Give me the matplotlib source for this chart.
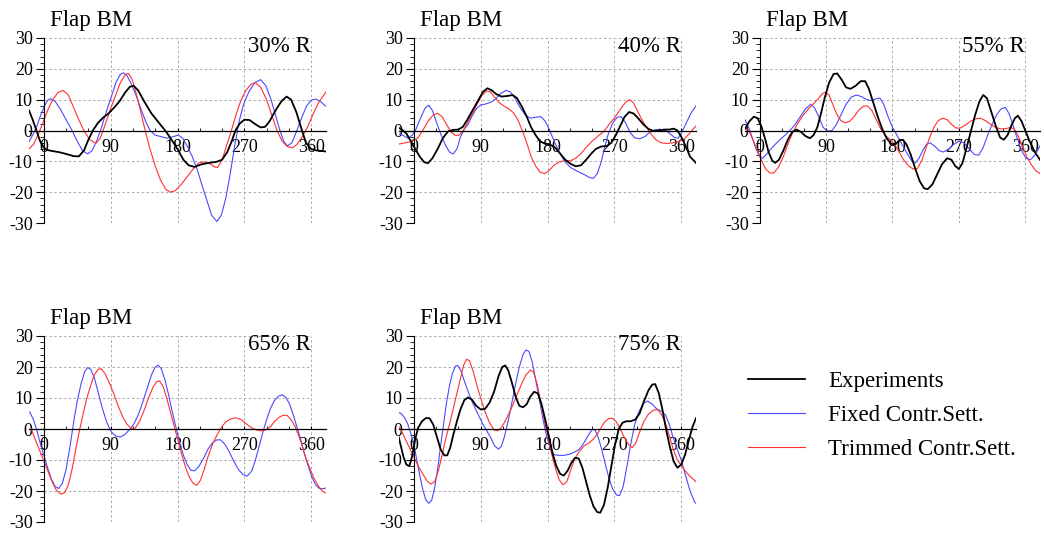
import matplotlib
matplotlib.use("Agg")
import matplotlib.pyplot as plt
from matplotlib.ticker import MultipleLocator

plt.rcParams['font.family'] = ['Liberation Serif', 'DejaVu Serif']
plt.rcParams['axes.unicode_minus'] = False

# (azimuth deg, flap bending moment) pairs
exp_30 = [(-20, 6.5), (-15, 3.5), (-10, 0), (-5, -3.5), (0, -5.5), (3, -6.2), (10, -6.6), (20, -7),
          (30, -7.6), (40, -8.3), (47, -8.4), (54, -6.5), (60, -3), (66, 0), (73, 2.5), (80, 4.2),
          (87, 5.5), (95, 7.5), (102, 9.5), (110, 12.5), (116, 14.2), (121, 14.5), (127, 13),
          (135, 9.5), (145, 5.5), (155, 2.5), (165, -0.5), (172, -3), (180, -6), (188, -9.5),
          (195, -11.3), (203, -11.8), (212, -11), (222, -10.5), (232, -10.2), (240, -9.5),
          (247, -7), (253, -3.5), (258, 0), (264, 2.3), (270, 3.5), (277, 3.4), (285, 2),
          (292, 1), (298, 1.2), (304, 3), (312, 6.5), (320, 9.5), (327, 11), (333, 10), (340, 6),
          (347, 0.5), (353, -4), (360, -6), (368, -6.5), (380, -6.8)]
fix_30 = [(-20, -3.6), (-15, -1.5), (-10, 1), (-5, 4.5), (0, 7.5), (5, 9.8), (9, 10.3), (15, 9.5),
          (22, 7), (30, 3.5), (38, 0), (45, -3.5), (52, -6.5), (59, -7.6), (65, -6.5), (71, -3.5),
          (77, 0.5), (84, 6), (91, 11), (97, 15.5), (103, 18.2), (107, 18.7), (112, 17.8),
          (118, 15), (124, 11.5), (130, 7.5), (137, 3), (143, 0), (150, -1.5), (158, -2),
          (166, -2.5), (174, -2), (181, -1.5), (187, -2.5), (193, -5), (200, -8.5), (207, -13),
          (214, -18.5), (220, -23), (226, -27.5), (233, -29.5), (239, -27.5), (245, -22),
          (251, -14), (257, -5), (263, 3), (269, 8.5), (276, 12.5), (284, 15.5), (292, 16.5),
          (299, 14.5), (306, 10), (312, 5), (318, 0), (323, -3.5), (328, -5), (334, -4),
          (340, -0.5), (347, 4), (354, 8), (360, 9.8), (366, 10.2), (372, 9.5), (380, 7.8)]
trim_30 = [(-20, -6), (-14, -4.5), (-8, -1.5), (-2, 2), (5, 6.5), (12, 10), (19, 12.3), (26, 13),
           (33, 11.5), (40, 7.5), (47, 3.5), (55, -0.5), (62, -3), (70, -4.2), (76, -2.5),
           (82, 1.5), (89, 6.5), (96, 11), (103, 15.5), (110, 18.2), (114, 18.5), (119, 16.5),
           (125, 11.5), (131, 5.5), (137, -0.5), (143, -6), (150, -11.5), (157, -16), (164, -19),
           (170, -20), (177, -19.5), (185, -17.5), (193, -15), (201, -12.5), (209, -10.5),
           (216, -10.2), (223, -10.7), (230, -11.8), (234, -12), (240, -9.5), (246, -5),
           (252, -0.5), (258, 4.5), (265, 9.5), (272, 13), (279, 15), (285, 15.5), (292, 14),
           (300, 10), (307, 5), (314, 0), (321, -3.5), (328, -5.2), (335, -5.6), (341, -4.5),
           (348, -2), (355, 1), (362, 5), (370, 9), (380, 12.5)]

exp_40 = [(-22, 1), (-17, 0.5), (-10, -1), (-4, -3.5), (2, -6), (8, -8.5), (14, -10.3), (19, -10.6),
          (25, -9), (32, -6), (39, -2.5), (46, -0.3), (53, 0.2), (60, 0.3), (66, 1.2), (72, 3.5),
          (79, 6.5), (86, 9.5), (93, 12.5), (99, 13.7), (105, 13), (111, 11.8), (118, 11),
          (126, 11.2), (133, 11.5), (139, 10.5), (146, 7.5), (152, 4.5), (158, 1), (164, -1.5),
          (170, -3.5), (176, -4.2), (183, -4.5), (190, -5.5), (197, -7.5), (204, -9.5),
          (211, -10.8), (218, -11.6), (225, -11.3), (232, -9.5), (239, -7.5), (245, -6),
          (252, -5.2), (260, -5), (266, -4), (272, -1.5), (278, 1.5), (284, 4.5), (290, 6),
          (296, 5.5), (302, 4), (309, 2), (316, 0.5), (323, -0.2), (330, 0), (337, 0.3),
          (344, 0.3), (350, 0.6), (355, 0), (360, -2), (366, -5), (372, -8.5), (380, -10.5)]
fix_40 = [(-22, -1), (-15, -1.5), (-8, -2.5), (-2, -1.5), (3, 0.5), (9, 4), (15, 7.2), (20, 8.2),
          (25, 6.5), (30, 3), (36, -1), (42, -4.5), (48, -7), (53, -7.6), (58, -6), (63, -2),
          (68, 0.5), (73, 2), (78, 4.5), (84, 7), (90, 8.3), (97, 8.6), (104, 9.2), (110, 10.2),
          (117, 12), (124, 13), (130, 12.5), (136, 10.5), (143, 7.5), (150, 5), (157, 4),
          (164, 4.3), (171, 4.5), (177, 3), (183, 0), (189, -3.5), (196, -7), (203, -10),
          (211, -12), (220, -13.2), (229, -14.2), (237, -15.3), (242, -15.5), (247, -14),
          (252, -10.5), (257, -5.5), (262, -1), (268, 2.5), (274, 4.3), (279, 4.5), (285, 2.5),
          (291, -0.5), (297, -2.3), (304, -2.7), (311, -2), (318, -0.5), (325, 0.3), (332, 0.3),
          (339, 0), (345, -1), (351, -2.3), (356, -2.5), (361, -0.5), (367, 2.5), (373, 5.5),
          (380, 8)]
trim_40 = [(-22, -4.5), (-12, -4), (-3, -3.6), (5, -2.5), (12, 0), (19, 3), (26, 5), (32, 5.6),
           (38, 4.5), (44, 2), (50, -0.5), (56, -1.6), (61, -1.5), (66, -0.3), (72, 2.5),
           (79, 5.5), (86, 9), (92, 11.5), (98, 12.8), (103, 12.5), (109, 10.8), (115, 9),
           (121, 8), (128, 7), (134, 5.8), (140, 3.5), (146, 0), (152, -4), (158, -8.5),
           (164, -11.5), (170, -13.5), (176, -14), (182, -13), (189, -11.2), (196, -10.2),
           (204, -9.8), (211, -9.8), (218, -9), (225, -7.5), (232, -5.5), (240, -3.5),
           (248, -1.8), (256, -0.3), (263, 2), (270, 4), (277, 6.5), (284, 8.8), (290, 10),
           (295, 9.2), (300, 7), (306, 4), (312, 1.5), (319, -1), (326, -3), (333, -4),
           (341, -4.2), (349, -4), (357, -3.6), (364, -2.8), (371, -1), (380, 1.5)]

exp_55 = [(-20, 0.5), (-14, 3), (-8, 4.5), (-3, 4), (2, 1.5), (7, -2.5), (12, -7), (17, -9.8),
          (21, -10.5), (26, -9.5), (32, -6.5), (38, -3), (44, -0.5), (50, 0.3), (56, -0.5),
          (62, -1.8), (68, -2.5), (73, -1.5), (78, 1), (83, 5.5), (88, 10.5), (94, 15.5),
          (100, 18.3), (105, 18.5), (111, 16.5), (117, 14), (123, 13.5), (130, 14.5), (137, 16),
          (143, 16), (148, 13.5), (154, 9), (160, 4.5), (166, 0.5), (172, -2.5), (178, -4.3),
          (184, -4.5), (189, -3.2), (194, -3), (199, -4.5), (205, -8), (211, -12.5),
          (217, -16.5), (223, -18.8), (228, -19), (234, -17.5), (240, -14.5), (247, -11),
          (254, -9), (260, -9.5), (265, -11.5), (270, -12.5), (275, -10.5), (280, -6),
          (286, -0.5), (292, 5), (298, 9.5), (303, 11.5), (308, 10.5), (314, 6), (320, 1.5),
          (326, -2.3), (331, -3), (336, -1.5), (341, 1.5), (346, 4), (350, 4.8), (355, 3),
          (360, 0), (366, -3.5), (373, -7), (380, -9.5)]
fix_55 = [(-20, 3.5), (-15, 1), (-10, -2.5), (-5, -6), (0, -8.5), (4, -9), (10, -7.5), (17, -5.5),
          (25, -3.5), (33, -1.8), (41, 0), (48, 2), (55, 4.5), (62, 7), (69, 8.5), (74, 7.5),
          (80, 4.5), (86, 1), (92, -0.2), (98, 0), (104, 2), (110, 5), (117, 8.5), (124, 10.8),
          (131, 11.5), (138, 11), (145, 10), (152, 9.7), (158, 10.3), (163, 10.5), (168, 8.5),
          (174, 4.5), (180, 1), (186, -1.5), (193, -4.5), (200, -7.5), (206, -9.8), (211, -10.5),
          (216, -9), (221, -6.5), (226, -4.5), (231, -4), (237, -5), (243, -6.5), (249, -7),
          (256, -6), (263, -4.5), (270, -3.5), (277, -4), (284, -6), (291, -7.8), (297, -8),
          (303, -5.5), (309, -1.5), (315, 2), (321, 5), (327, 7), (333, 7.5), (338, 5.5),
          (343, 2), (349, -2.5), (355, -6.5), (361, -9), (367, -9.5), (373, -8), (380, -5)]
trim_55 = [(-20, 1), (-15, 0), (-10, -2.5), (-4, -6), (2, -9.5), (8, -12.5), (14, -13.8),
           (19, -13.8), (25, -12), (32, -8.5), (38, -4.5), (45, -0.5), (52, 2.5), (59, 5),
           (66, 7), (73, 8.7), (79, 10.2), (85, 12), (89, 12.4), (94, 11.5), (99, 8.5), (104, 5.5),
           (110, 3.2), (116, 2.5), (122, 3), (128, 4.5), (134, 6.5), (140, 7.8), (146, 8),
           (152, 6.5), (158, 3.5), (164, 0.5), (170, -1.5), (177, -3), (183, -4.5), (189, -7),
           (195, -9.5), (202, -11.5), (208, -12.5), (214, -12.3), (220, -9.5), (225, -6),
           (230, -2.5), (236, 1), (242, 3.2), (248, 4), (254, 3.5), (260, 2), (266, 0.8),
           (272, 0.8), (279, 1.8), (286, 3), (293, 3.8), (299, 4), (306, 3.2), (313, 2), (320, 1),
           (327, 0.5), (334, 0.6), (340, 1), (345, 0.5), (350, -1.5), (356, -5), (362, -8.5),
           (368, -11), (374, -13), (380, -14)]

fix_65 = [(-19, 5.5), (-14, 3), (-10, 0), (-5, -4.5), (0, -8.5), (5, -12.5), (10, -16),
          (15, -18.5), (20, -19.2), (25, -17.5), (30, -13), (35, -6), (40, 2), (45, 9), (50, 14.5),
          (55, 18.5), (59, 19.8), (63, 19.3), (68, 16.5), (73, 12), (79, 6.5), (85, 2), (91, -1),
          (97, -2.3), (103, -2.6), (109, -1.8), (115, -0.3), (121, 1.5), (127, 4.5), (133, 8.5),
          (139, 13), (145, 17.5), (150, 20), (154, 20.6), (158, 19.5), (163, 16), (168, 11),
          (173, 5.5), (178, 0.5), (183, -4.5), (188, -8.5), (193, -11.5), (198, -13.3),
          (203, -13.5), (209, -12), (215, -9.5), (221, -6.5), (227, -4.5), (233, -3.5),
          (238, -3.5), (244, -5), (250, -7.5), (256, -10.5), (262, -13), (268, -14.7),
          (274, -15.2), (280, -13.5), (285, -10), (290, -5.5), (295, -1), (300, 3), (305, 6.5),
          (310, 9), (316, 10.6), (321, 11), (326, 10.2), (331, 8), (336, 4.5), (341, 0.5),
          (346, -3.5), (351, -8), (356, -12), (361, -15.5), (366, -18), (371, -19.2),
          (376, -19.3), (380, -19)]
trim_65 = [(-17, 0), (-13, -2.5), (-8, -5.5), (-3, -8.5), (2, -11.5), (7, -14.5), (12, -17.5),
           (17, -19.8), (23, -21), (28, -20.5), (33, -18), (38, -13), (43, -6.5), (48, -0.5),
           (53, 5), (58, 10), (63, 14), (68, 17.5), (73, 19.2), (77, 19.5), (82, 18), (88, 15),
           (94, 11.5), (100, 7.5), (106, 4), (112, 1.5), (118, 0.2), (123, 0.3), (129, 2.5),
           (135, 6), (141, 10), (147, 13.5), (152, 15.3), (156, 15.5), (161, 13.5), (166, 9.5),
           (171, 5), (176, 0.5), (181, -4), (186, -8.5), (191, -12.5), (196, -15.5), (201, -17.5),
           (206, -18.2), (211, -16.5), (216, -13), (221, -9), (227, -5), (233, -2), (239, 0.5),
           (245, 2.3), (252, 3.3), (259, 3.6), (266, 3), (272, 1.8), (279, 0.5), (286, -0.3),
           (293, -0.6), (299, -0.3), (305, 0.7), (311, 2.5), (317, 3.8), (323, 4.5), (328, 4.3),
           (333, 3), (338, 1), (343, -2), (348, -5.5), (353, -9.5), (358, -12.5), (364, -16),
           (370, -18.5), (375, -20), (380, -20.7)]

exp_75 = [(-22, -1), (-18, -5), (-14, -9), (-10, -11.5), (-6, -12), (-2, -8.5), (2, -3), (6, 0.5),
          (11, 2.5), (16, 3.5), (21, 3.5), (26, 1.5), (31, -2.5), (36, -6.5), (41, -8.5),
          (45, -8.5), (49, -6), (53, -2), (58, 2.5), (63, 6.5), (68, 9.3), (73, 10.2), (78, 9.5),
          (84, 7.5), (90, 6.3), (96, 6.5), (102, 8.5), (108, 12), (114, 17), (119, 20),
          (123, 20.5), (127, 19), (132, 15), (137, 10.5), (142, 7.5), (147, 7), (152, 8),
          (157, 10.5), (162, 12), (167, 11.5), (172, 8), (177, 3), (182, -2.5), (187, -8),
          (192, -12), (197, -14.5), (202, -15), (207, -13.5), (212, -11), (217, -9.3),
          (222, -9.5), (227, -12.5), (232, -17), (237, -21.5), (242, -25), (247, -26.8),
          (251, -27), (256, -24.5), (261, -19), (266, -12), (271, -5), (276, 0), (281, 2),
          (286, 2.5), (292, 2.5), (298, 3), (304, 5), (310, 9), (316, 12.5), (321, 14.3),
          (325, 14.5), (330, 11.5), (335, 6), (340, -0.5), (345, -6), (350, -10.5), (355, -12.5),
          (360, -11.5), (365, -8.5), (370, -4), (375, 0.5), (380, 3.5)]
fix_75 = [(-22, 5.5), (-17, 5), (-12, 3.5), (-8, 1.5), (-4, -1.5), (0, -5), (4, -10), (8, -15),
          (12, -19.5), (16, -22.8), (20, -24), (24, -23), (28, -19), (32, -13), (36, -5.5),
          (40, 1.5), (44, 8.5), (48, 14), (52, 18), (56, 20.3), (59, 20.5), (63, 19), (68, 15.5),
          (74, 11.5), (80, 8), (86, 5), (92, 2), (98, -0.5), (104, -3), (109, -5.5), (114, -6.5),
          (118, -5.5), (122, -2.5), (127, 2.5), (132, 8.5), (137, 14.5), (142, 20), (147, 24),
          (151, 25.5), (155, 25), (159, 22), (164, 16), (169, 9.5), (174, 3), (179, -2.5),
          (184, -6.5), (189, -8.3), (195, -8.5), (202, -8.5), (209, -8.2), (216, -7.5),
          (223, -6.5), (229, -4.5), (235, -2), (240, -0.2), (244, -0.3), (248, -2.5),
          (253, -6.5), (258, -11.5), (263, -16), (268, -19.5), (273, -21.3), (277, -21.5),
          (282, -18.5), (287, -12), (292, -5), (297, 1), (303, 5.5), (309, 8.3), (315, 9),
          (321, 8), (327, 6.5), (333, 5.8), (339, 4.5), (344, 1.5), (349, -2.5), (354, -6),
          (360, -10), (366, -15), (372, -20), (378, -23.5), (380, -24)]
trim_75 = [(-22, 1.5), (-17, -0.5), (-12, -3), (-6, -6), (0, -9), (6, -12), (12, -14.5),
           (18, -16.8), (23, -17.8), (28, -17), (33, -13.5), (38, -8.5), (43, -3), (48, 1.5),
           (53, 6.5), (58, 11.5), (63, 16.5), (67, 20.5), (71, 22.5), (75, 22), (80, 18.5),
           (85, 14), (90, 10), (96, 5.5), (102, 2), (108, -0.3), (113, -0.5), (118, 0.5),
           (124, 3), (131, 6.5), (138, 10.5), (145, 14.5), (151, 17.5), (157, 19), (161, 18.5),
           (166, 14.5), (171, 8.5), (176, 2.5), (181, -3), (186, -8.5), (191, -13), (196, -16.5),
           (201, -18), (206, -17), (211, -13.5), (216, -10), (222, -7.5), (229, -5.5),
           (236, -4.5), (243, -3), (250, -0.5), (256, 2), (262, 3.3), (267, 3.5), (272, 2.5),
           (277, 0.5), (283, -2.5), (289, -5), (294, -6), (299, -4.5), (304, -1), (310, 2.5),
           (316, 4.8), (322, 6), (328, 6.3), (334, 4.5), (340, 1), (345, -3), (350, -7),
           (355, -10), (361, -12), (367, -14), (373, -15.5), (380, -17)]

stations = ["30% R", "40% R", "55% R", "65% R", "75% R"]
experiments = [exp_30, exp_40, exp_55, None, exp_75]
fixed = [fix_30, fix_40, fix_55, fix_65, fix_75]
trimmed = [trim_30, trim_40, trim_55, trim_65, trim_75]
labels = ["Experiments", "Fixed Contr.Sett.", "Trimmed Contr.Sett."]

W, H = 1045, 533
boxes = [(29, 38, 297, 185), (399, 38, 297, 185), (745, 38, 295, 185),
         (29, 336, 297, 186), (399, 336, 297, 186)]
BLUE = '#4a4aff'
RED = '#ff3030'

fig = plt.figure(figsize=(W / 100, H / 100), dpi=100)


def draw(ax, pts, **kw):
    xs = [p[0] for p in pts]
    ys = [p[1] for p in pts]
    return ax.plot(xs, ys, **kw)


for i, (l, t, w, h) in enumerate(boxes):
    ax = fig.add_axes([l / W, 1 - (t + h) / H, w / W, h / H])
    ax.set_xlim(-20, 380)
    ax.set_ylim(-30, 30)
    for s in ['top', 'right']:
        ax.spines[s].set_visible(False)
    ax.spines['left'].set_position(('data', 0))
    ax.spines['bottom'].set_position(('data', 0))
    ax.spines['left'].set_linewidth(0.8)
    ax.spines['bottom'].set_linewidth(0.9)
    ax.hlines([-30, -20, -10, 10, 20, 30], 0, 360, colors='#aaaaaa',
              linestyles=(0, (2.5, 2.5)), lw=0.7, zorder=0)
    ax.vlines([90, 180, 270, 360], -30, 30, colors='#aaaaaa',
              linestyles=(0, (2.5, 2.5)), lw=0.7, zorder=0)
    ax.set_xticks([0, 90, 180, 270, 360])
    ax.xaxis.set_minor_locator(MultipleLocator(30))
    ax.tick_params(axis='x', which='both', direction='in', length=2, pad=6, labelsize=13)
    ax.yaxis.set_major_locator(MultipleLocator(10))
    ax.yaxis.set_minor_locator(MultipleLocator(2))
    ax.tick_params(axis='y', which='major', direction='out', length=6, pad=2, labelsize=13)
    ax.tick_params(axis='y', which='minor', direction='out', length=3)
    ax.patch.set_visible(False)

    if experiments[i] is not None:
        draw(ax, experiments[i], color='black', lw=1.3, zorder=3)
    draw(ax, fixed[i], color=BLUE, lw=0.8, zorder=2)
    draw(ax, trimmed[i], color=RED, lw=0.8, zorder=2)

    ax.text(8, 1.065, "Flap BM", transform=ax.get_xaxis_transform(),
            ha='left', va='baseline', fontsize=16.5)
    ax.text(359, 25.5, stations[i], ha='right', va='baseline', fontsize=16.5)

leg_handles = [plt.Line2D([], [], color='black', lw=1.3),
               plt.Line2D([], [], color=BLUE, lw=0.8),
               plt.Line2D([], [], color=RED, lw=0.8)]
fig.legend(leg_handles, labels, loc='upper left', bbox_to_anchor=(748 / W, 1 - 371 / H),
           frameon=False, fontsize=16.5, handlelength=2.5, handletextpad=1.0,
           labelspacing=0.57, borderpad=0, borderaxespad=0)

fig.savefig("out.png", dpi=100)
